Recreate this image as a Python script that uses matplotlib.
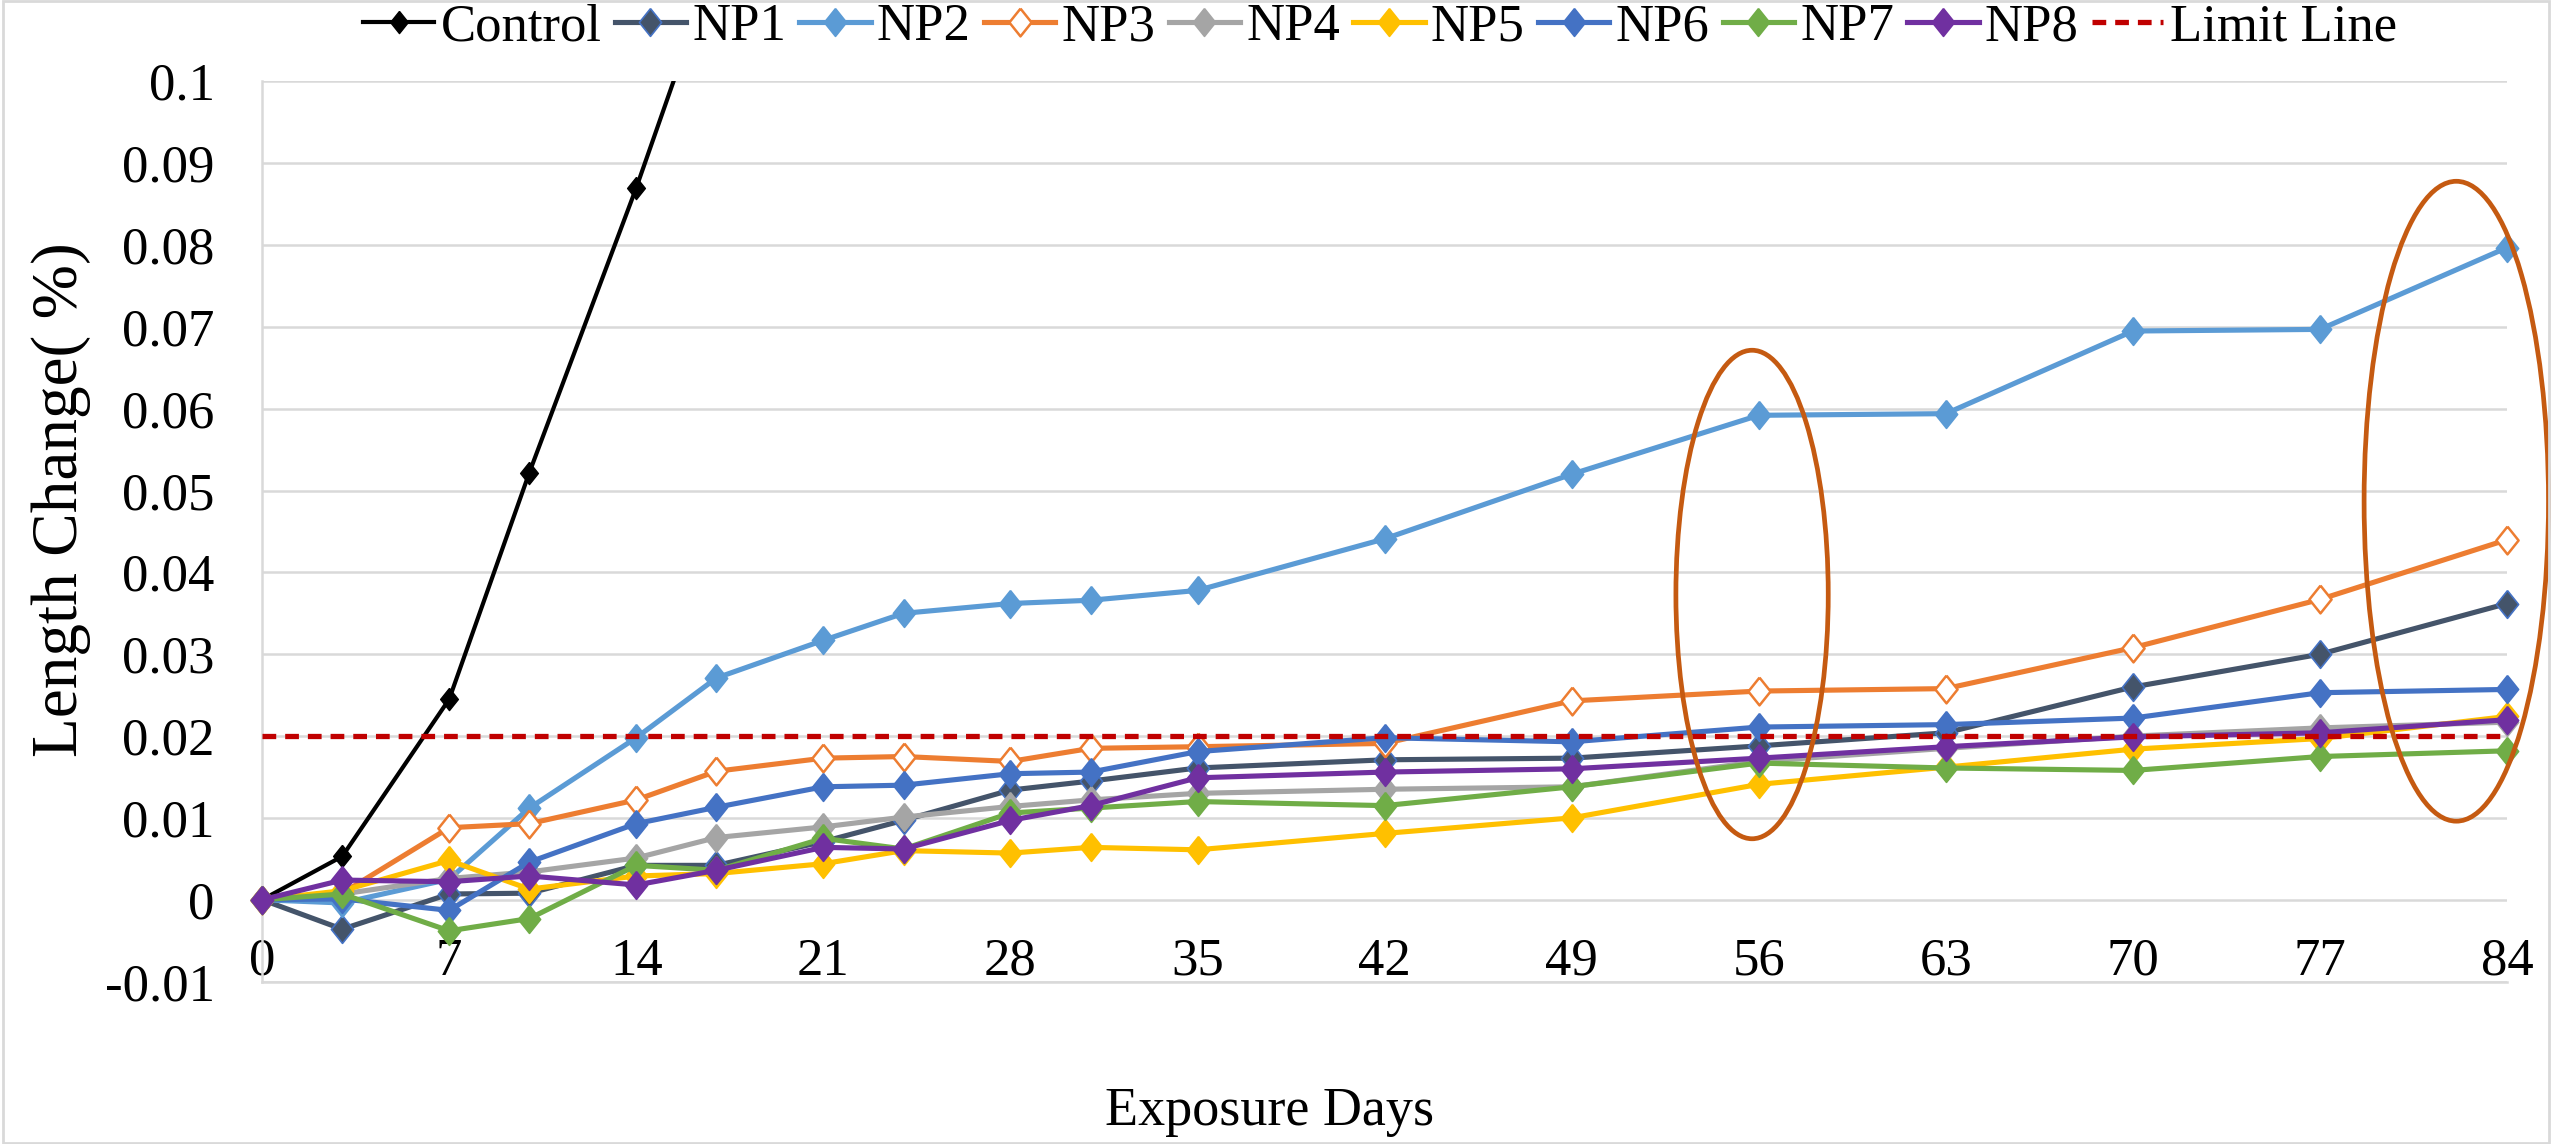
import numpy as np
import matplotlib
matplotlib.use("Agg")
import matplotlib.pyplot as plt
from matplotlib.patches import Ellipse, Rectangle

# --------------------------------------------------
# Data
# --------------------------------------------------
days = [0, 3, 7, 10, 14, 17, 21, 24, 28, 31, 35, 42, 49, 56, 63, 70, 77, 84]

control_days = [0, 3, 7, 10, 14, 17]
control = [0, 0.0053, 0.0245, 0.0522, 0.0870, 0.1150]

np1 = [0, -0.0036, 0.0007, 0.0008, 0.0042, 0.0042, 0.0071, 0.0097, 0.0134, 0.0145,
       0.0161, 0.0171, 0.0173, 0.0188, 0.0204, 0.0260, 0.0300, 0.0362]
np2 = [0, -0.0004, 0.0025, 0.0112, 0.0198, 0.0271, 0.0317, 0.0350, 0.0362, 0.0366,
       0.0378, 0.0441, 0.0520, 0.0592, 0.0594, 0.0695, 0.0697, 0.0797]
np3 = [0, 0.0008, 0.0088, 0.0093, 0.0122, 0.0157, 0.0173, 0.0175, 0.0169, 0.0185,
       0.0187, 0.0191, 0.0243, 0.0255, 0.0258, 0.0308, 0.0367, 0.0440]
np4 = [0, 0.0007, 0.0026, 0.0034, 0.0051, 0.0076, 0.0089, 0.0101, 0.0114, 0.0122,
       0.0130, 0.0135, 0.0138, 0.0169, 0.0185, 0.0200, 0.0210, 0.0217]
np5 = [0, 0.0011, 0.0048, 0.0013, 0.0029, 0.0032, 0.0044, 0.0060, 0.0057, 0.0064,
       0.0061, 0.0081, 0.0100, 0.0141, 0.0162, 0.0184, 0.0197, 0.0224]
np6 = [0, 0.0001, -0.0013, 0.0046, 0.0093, 0.0113, 0.0138, 0.0140, 0.0154, 0.0156,
       0.0181, 0.0198, 0.0193, 0.0211, 0.0214, 0.0222, 0.0253, 0.0257]
np7 = [0, 0.0007, -0.0038, -0.0023, 0.0042, 0.0036, 0.0075, 0.0062, 0.0106, 0.0112,
       0.0120, 0.0115, 0.0138, 0.0167, 0.0161, 0.0158, 0.0175, 0.0182]
np8 = [0, 0.0024, 0.0022, 0.0029, 0.0018, 0.0036, 0.0064, 0.0062, 0.0097, 0.0115,
       0.0149, 0.0156, 0.0160, 0.0173, 0.0187, 0.0199, 0.0204, 0.0220]

limit_value = 0.02

series_names = ["NP1", "NP2", "NP3", "NP4", "NP5", "NP6", "NP7", "NP8"]
series_values = [np1, np2, np3, np4, np5, np6, np7, np8]
series_colors = ["#44546A", "#5B9BD5", "#ED7D31", "#A5A5A5",
                 "#FFC000", "#4472C4", "#70AD47", "#7030A0"]

x_ticks = list(range(0, 85, 7))
y_ticks = [-0.01, 0, 0.01, 0.02, 0.03, 0.04, 0.05, 0.06, 0.07, 0.08, 0.09, 0.1]

# highlighted regions: (center day, center value, width in days, height)
ellipses = [(55.75, 0.0373, 5.7, 0.0597),
            (82.1, 0.0487, 6.9, 0.0782)]

# --------------------------------------------------
# Figure
# --------------------------------------------------
plt.rcParams['font.family'] = ['Liberation Serif', 'DejaVu Serif']

fig = plt.figure(figsize=(25.52, 11.44), dpi=100)
ax = fig.add_axes([0.1027, 0.1420, 0.8797, 0.7868])

diamond = [(0, 1), (0.8, 0), (0, -1), (-0.8, 0), (0, 1)]

ax.plot(control_days, control, color="black", lw=3.0, marker=diamond,
        ms=16, mfc="black", mec="black", label="Control", zorder=3)

for name, vals, col in zip(series_names, series_values, series_colors):
    mfc = "white" if name == "NP3" else col
    mec = "#4472C4" if name == "NP1" else col
    mew = 1.8 if name == "NP3" else 1.2
    ax.plot(days, vals, color=col, lw=3.7, marker=diamond, ms=20,
            mfc=mfc, mec=mec, mew=mew, label=name, zorder=4, clip_on=False)

ax.axhline(limit_value, color="#C00000", lw=3.8, ls=(0, (2.6, 1.7)),
           label="Limit Line", zorder=5)

for cx, cy, w, h in ellipses:
    ax.add_patch(Ellipse((cx, cy), w, h, fill=False, ec="#C55A11", lw=3.4,
                         zorder=6, clip_on=False))

ax.set_xlim(0, 84)
ax.set_ylim(-0.01, 0.1)
ax.set_xticks(x_ticks)
ax.set_yticks(y_ticks)
ax.set_yticklabels([f"{round(v, 2):g}" for v in y_ticks])
ax.tick_params(axis="both", length=0, labelsize=38)
ax.tick_params(axis="y", pad=34)
ax.tick_params(axis="x", pad=3)
for lbl in ax.get_xticklabels():
    lbl.set_verticalalignment("bottom")

ax.grid(axis="y", color="#D9D9D9", lw=1.8)
ax.set_axisbelow(True)
for s in ["top", "right"]:
    ax.spines[s].set_visible(False)
for s in ["left", "bottom"]:
    ax.spines[s].set_color("#D9D9D9")
    ax.spines[s].set_linewidth(1.8)

fig.text(0.024, 1 - 500 / 1144, "Length Change( %)", rotation=90,
         ha="center", va="center", fontsize=47)
fig.text(0.4976, 1 - 1112 / 1144, "Exposure Days", ha="center", va="center",
         fontsize=39)

fig.legend(loc="center", bbox_to_anchor=(0.5407, 0.976), ncol=10,
           frameon=False, fontsize=38, handlelength=1.35, handletextpad=0.12,
           columnspacing=0.25, borderaxespad=0)

fig.add_artist(Rectangle((0.001, 0.001), 0.998, 0.998, transform=fig.transFigure,
                         fill=False, ec="#D9D9D9", lw=2))

fig.savefig("out.png", dpi=100)
